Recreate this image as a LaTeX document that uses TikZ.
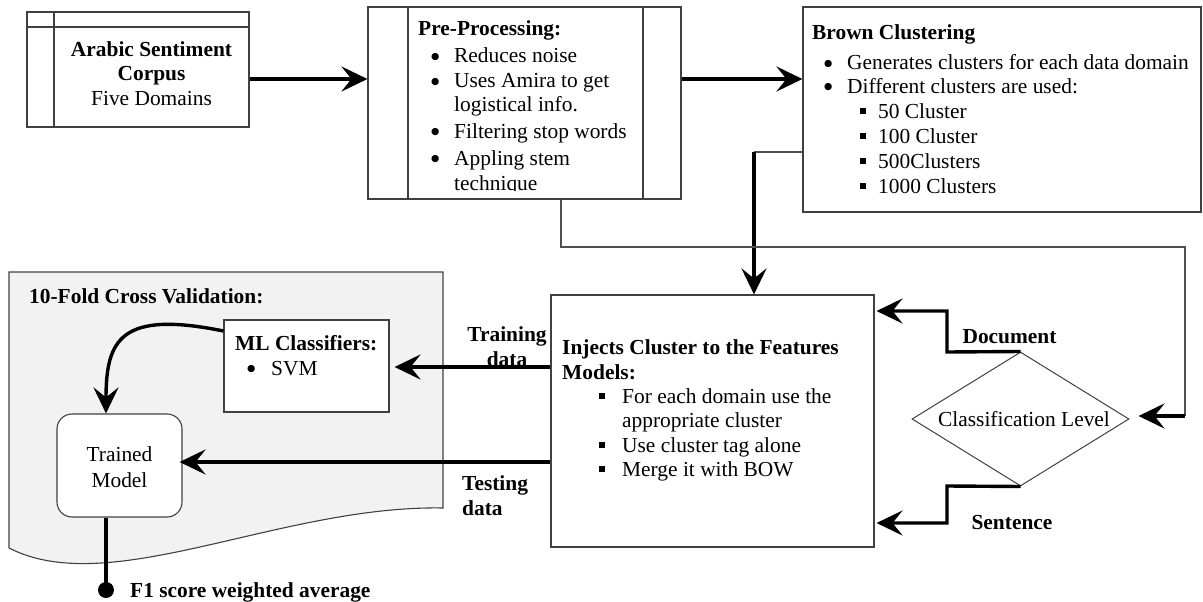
\documentclass[tikz,border=0pt]{standalone}
\usepackage{fontspec}
\setmainfont{Liberation Serif}
\newfontfamily\dejavu{DejaVu Sans}
\usetikzlibrary{arrows.meta,shapes.geometric}
\definecolor{bordercol}{HTML}{404040}
\definecolor{linecol}{HTML}{505050}
\definecolor{panelgray}{HTML}{F2F2F2}
\newcommand{\bul}[1]{\makebox[#1][l]{\raisebox{3.2pt}{\dejavu\fontsize{9.5}{10}\selectfont ●}}}
\newcommand{\sqb}[1]{\makebox[#1][l]{\raisebox{4.5pt}{\rule{6pt}{6pt}}}}
\begin{document}
\begin{tikzpicture}[x=1pt,y=-1pt,
  box/.style={draw=bordercol, line width=1.1pt, inner sep=0, minimum width=#1},
  T/.style={inner sep=0, anchor=base west, font=\fontsize{21.4}{24}\selectfont},
  TB/.style={inner sep=0, anchor=base west, font=\fontsize{21.4}{24}\selectfont\bfseries},
  TC/.style={inner sep=0, anchor=base, font=\fontsize{21.4}{24}\selectfont},
  TCB/.style={inner sep=0, anchor=base, font=\fontsize{21.4}{24}\selectfont\bfseries},
  arr/.style={line width=3.4pt, -{Stealth[length=26pt,width=25pt,inset=10pt]}},
  thinline/.style={line width=1.2pt, draw=linecol},
  plainline/.style={line width=3.4pt}
]
\useasboundingbox (0,0) rectangle (1203,602);

% gray panel
\draw[draw=bordercol, fill=panelgray, line width=1.1pt]
  (9,272) -- (443,272) -- (443,508) .. controls (280,505) and (110,600) .. (9,548) -- cycle;

% boxes
\node[box=222pt, minimum height=115pt] (corpus) at (138,69.5) {};
\draw[draw=bordercol, line width=1.1pt] (corpus.north west -| 54,0) -- (corpus.south west -| 54,0);
\draw[draw=bordercol, line width=1.1pt] (corpus.north west |- 0,27) -- (corpus.north east |- 0,27);

\node[box=313pt, minimum height=192pt] (pre) at (524.5,103) {};
\draw[draw=bordercol, line width=1.1pt] (pre.north -| 408,0) -- (pre.south -| 408,0);
\draw[draw=bordercol, line width=1.1pt] (pre.north -| 643,0) -- (pre.south -| 643,0);

\node[box=398pt, minimum height=205pt] (brown) at (1002,109.5) {};
\node[box=165pt, minimum height=92pt, fill=white] (ml) at (306.5,366) {};
\node[box=125pt, minimum height=103pt, fill=white, rounded corners=15pt] (trained) at (119.5,465.5) {};
\node[box=323pt, minimum height=252pt] (inj) at (712.5,421) {};
\node[draw=bordercol, line width=1pt, diamond, inner sep=0, minimum width=217pt, minimum height=134pt] (cl) at (1020.5,419) {};

% texts: corpus
\node[TCB] (c1) at (151.5,57) {Arabic Sentiment};
\node[TCB] (c2) at (151.5,81) {Corpus};
\node[TC] (c3) at (151.5,106) {Five Domains};

% texts: pre-processing
\begin{scope}
\clip (408,7) rectangle (643,190.5);
\node[TB] (p0) at (418,36) {Pre-Processing:};
\node[T] (p1) at (431,63) {\bul{23pt}Reduces noise};
\node[T] (p2) at (431,88) {\bul{23pt}Uses Amira to get};
\node[T] (p3) at (454,111) {logistical info.};
\node[T] (p4) at (431,138) {\bul{23pt}Filtering stop words};
\node[T] (p5) at (431,165) {\bul{23pt}Appling stem};
\node[T] (p6) at (454,190.5) {technique};
\end{scope}

% texts: brown
\node[TB] (b0) at (812,40) {Brown Clustering};
\node[T] (b1) at (824,70) {\bul{23pt}Generates clusters for each data domain};
\node[T] (b2) at (824,93) {\bul{23pt}Different clusters are used:};
\node[T] (b3) at (860,118) {\sqb{18pt}50 Cluster};
\node[T] (b4) at (860,143) {\sqb{18pt}100 Cluster};
\node[T] (b5) at (860,168) {\sqb{18pt}500Clusters};
\node[T] (b6) at (860,193) {\sqb{18pt}1000 Clusters};

% texts: injects
\node[TB] (i0) at (562,354) {Injects Cluster to the Features};
\node[TB] (i1) at (562,379) {Models:};
\node[T] (i2) at (599,403) {\sqb{23pt}For each domain use the};
\node[T] (i3) at (622,427) {appropriate cluster};
\node[T] (i4) at (599,452) {\sqb{23pt}Use cluster tag alone};
\node[T] (i5) at (599,476) {\sqb{23pt}Merge it with BOW};

% texts: panel
\node[TB] (v0) at (29,303) {10-Fold Cross Validation:};
\node[TB] (m0) at (235,350) {ML Classifiers:};
\node[T] (m1) at (247,375) {\bul{24pt}SVM};
\node[TC] (t1) at (119.5,461) {Trained};
\node[TC] (t2) at (119.5,487) {Model};

% labels
\node[TCB] (lt1) at (507,341) {Training};
\node[TCB] (lt2) at (507,366) {data};
\node[TB] (ls1) at (462,490) {Testing};
\node[TB] (ls2) at (462,515) {data};
\node[TCB] (ld) at (1009.5,343) {Document};
\node[TCB] (lse) at (1012,529) {Sentence};
\node[TC] (clt) at (1024,426) {Classification Level};
\node[TB] (f1) at (130,597) {F1 score weighted average};

% connectors
\draw[arr] (corpus.east |- 0,79) -- (pre.west |- 0,79);
\draw[arr] (pre.east |- 0,79) -- (brown.west |- 0,79);

\coordinate (bk) at (754,152);
\draw[thinline] (brown.west |- bk) -- (bk);
\draw[arr] (bk) -- (inj.north -| bk);

\coordinate (pk) at (1185,416);
\draw[thinline] (pre.south -| 561,0) -- (561,247) -- (1185,247) -- (pk);
\draw[arr] (pk) -- ([xshift=9pt]cl.east |- pk);

\draw[arr] (cl.north) -- (947,352) -- (947,311) -- ([xshift=2pt]inj.east |- 0,311);
\draw[arr] (cl.south) -- (947,486) -- (947,523) -- ([xshift=2pt]inj.east |- 0,523);

\draw[arr] (inj.west |- 0,367) -- ([xshift=5pt]ml.east |- 0,367);
\draw[arr] (inj.west |- 0,462) -- ([xshift=-3pt]trained.east |- 0,462);

\draw[arr] (ml.west |- 0,331) .. controls (120,310) and (106,340) .. (trained.north -| 106,0);

\node[circle, fill=black, inner sep=0, minimum size=16pt] (dot) at (106,590) {};
\draw[plainline] (trained.south -| 106,0) -- (dot.center);
\end{tikzpicture}
\end{document}
